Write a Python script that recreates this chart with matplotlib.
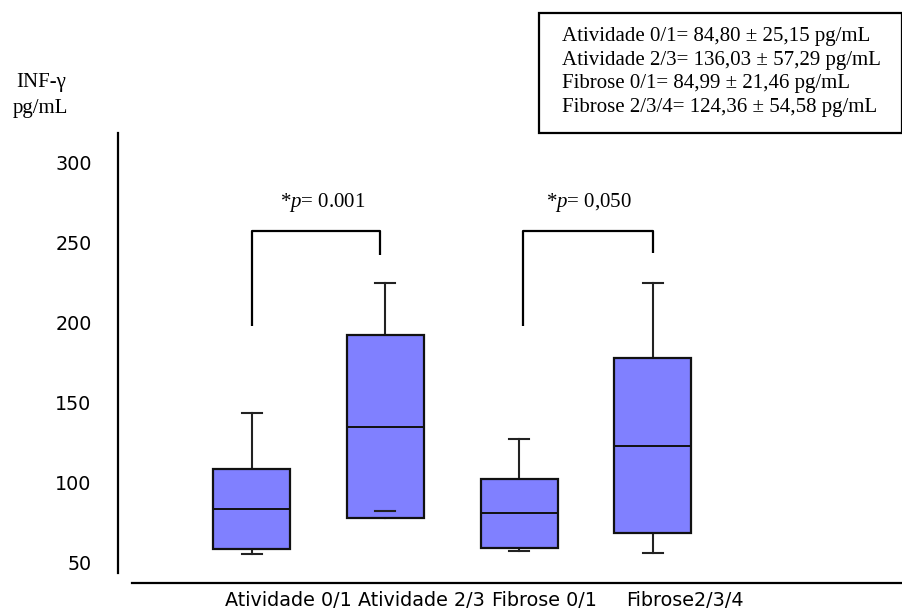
import matplotlib
matplotlib.use("Agg")
import matplotlib.pyplot as plt
import matplotlib.transforms as mtransforms
from matplotlib.patches import Rectangle

plt.rcParams["mathtext.fontset"] = "custom"
plt.rcParams["mathtext.rm"] = "Liberation Serif"
plt.rcParams["mathtext.it"] = "Liberation Serif:italic"

# Group labels and box-plot statistics (pg/mL)
groups = ["Atividade 0/1", "Atividade 2/3", "Fibrose 0/1", "Fibrose2/3/4"]
whisker_low = [55.6, 82.5, 57.5, 56.0]
q1 = [58.5, 78.0, 59.4, 68.75]
median = [83.75, 135.0, 81.25, 123.0]
q3 = [108.75, 192.5, 102.5, 178.0]
whisker_high = [143.75, 225.0, 127.5, 225.0]

yticks = [50, 100, 150, 200, 250, 300]

# Comparison brackets: (x left, x right, left foot, right foot, top) and p-values
bracket_x = [(1.0, 1.96), (3.03, 4.0)]
bracket_left_foot = [198.0, 198.0]
bracket_right_foot = [242.5, 243.5]
bracket_top = 257.5
p_labels = ["*$p$= 0.001", "*$p$= 0,050"]
p_label_x = [1.53, 3.52]
p_label_y = 275.0

summary_lines = [
    "Atividade 0/1= 84,80 \u00b1 25,15 pg/mL",
    "Atividade 2/3= 136,03 \u00b1 57,29 pg/mL",
    "Fibrose 0/1= 84,99 \u00b1 21,46 pg/mL",
    "Fibrose 2/3/4= 124,36 \u00b1 54,58 pg/mL",
]

W, H = 903, 612
fig = plt.figure(figsize=(W / 100, H / 100), dpi=100)
ax = fig.add_axes([118 / W, (H - 583) / H, 785 / W, 450 / H])

stats = []
for i, g in enumerate(groups):
    stats.append(dict(label=g, whislo=whisker_low[i], q1=q1[i], med=median[i],
                      q3=q3[i], whishi=whisker_high[i], fliers=[]))

positions = list(range(1, len(groups) + 1))
ax.bxp(stats, positions=positions, widths=0.575, patch_artist=True,
       showfliers=False,
       boxprops=dict(facecolor="#8080ff", edgecolor="#111111", linewidth=1.6, zorder=2),
       medianprops=dict(color="#111111", linewidth=1.4, zorder=3),
       whiskerprops=dict(color="#222222", linewidth=1.5, zorder=1),
       capprops=dict(color="#222222", linewidth=1.5, zorder=3),
       capwidths=0.15)

ax.set_xlim(0, 5.87)
ax.set_ylim(37.5, 318.75)

# Brackets and p-values
for (xl, xr), lf, rf, lab, lx in zip(bracket_x, bracket_left_foot,
                                      bracket_right_foot, p_labels, p_label_x):
    ax.plot([xl, xl, xr, xr], [lf, bracket_top, bracket_top, rf],
            color="black", linewidth=1.6, solid_capstyle="butt", clip_on=False)
    ax.text(lx, p_label_y, lab, ha="center", va="center",
            family="Liberation Serif", fontsize=15)

# Axes styling
for side in ("top", "right"):
    ax.spines[side].set_visible(False)
ax.spines["left"].set_bounds(43.75, 318.75)
ax.spines["bottom"].set_bounds(0.105, 5.87)
ax.spines["left"].set_linewidth(1.6)
ax.spines["bottom"].set_linewidth(1.6)

ax.set_yticks(yticks)
ax.set_yticklabels([str(v) for v in yticks])
ax.tick_params(axis="y", length=0, pad=19, labelsize=13.8)

ax.set_xticks(positions)
ax.set_xticklabels(groups, ha="left")
ax.tick_params(axis="x", length=0, pad=6, labelsize=13.8)
offset = mtransforms.ScaledTranslation(-0.27, 0, fig.dpi_scale_trans)
for lbl in ax.get_xticklabels():
    lbl.set_transform(lbl.get_transform() + offset)

# Y-axis title
fig.text(41 / W, 1 - 83 / H, "INF-\u03b3", ha="center", va="center",
         family="Liberation Serif", fontsize=15)
fig.text(40 / W, 1 - 108 / H, "pg/mL", ha="center", va="center",
         family="Liberation Serif", fontsize=15)

# Summary box
fig.add_artist(Rectangle((539 / W, 1 - 133 / H), (902 - 539) / W, (133 - 12.7) / H,
                         transform=fig.transFigure, facecolor="white",
                         edgecolor="black", linewidth=1.6))
for k, line in enumerate(summary_lines):
    fig.text(562 / W, 1 - (37 + 23.4 * k) / H, line, ha="left", va="center",
             family="Liberation Serif", fontsize=15)

fig.savefig("out.png", dpi=100)
